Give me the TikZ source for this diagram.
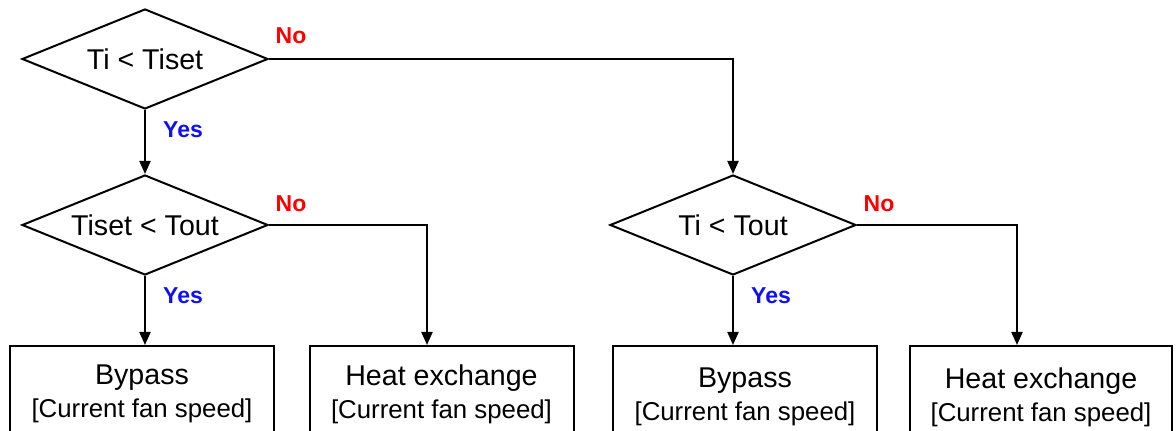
\documentclass[tikz,border=0pt]{standalone}
\usepackage{fontspec}
\setmainfont{Liberation Sans}
\usetikzlibrary{arrows.meta,positioning,shapes.geometric}
\definecolor{NoRed}{HTML}{FF0000}
\definecolor{YesBlue}{HTML}{1010F0}
\tikzset{
  decision/.style={diamond, draw=black, line width=1pt, minimum width=123pt, minimum height=50pt, shape aspect=2.46, inner sep=1pt, font=\fontsize{14.3pt}{17pt}\selectfont},
  action/.style={rectangle, draw=black, line width=1pt, anchor=north, minimum width=132pt, minimum height=48pt, align=center, font=\fontsize{14.3pt}{16.5pt}\selectfont},
  arr/.style={-{Triangle[length=6.5pt,width=5.5pt]}, line width=1pt, draw=black},
  nolabel/.style={text=NoRed, font=\bfseries\fontsize{11.5pt}{13pt}\selectfont},
  yeslabel/.style={text=YesBlue, font=\bfseries\fontsize{11.5pt}{13pt}\selectfont}
}

\begin{document}
\begin{tikzpicture}[x=0.5pt,y=-0.5pt]
\useasboundingbox (0,0) rectangle (1176,431);
% decisions
\node[decision] (d1) at (145,59) {Ti < Tiset};
\node[decision] (d2) at (145,225) {Tiset < Tout};
\node[decision] (d3) at (733,225) {Ti < Tout};
% actions (bottom edges run off the page)
\node[action] (b1) at (142,345) {Bypass\\{\fontsize{12.9pt}{16.5pt}\selectfont [Current fan speed]}};
\node[action] (b2) at (441.5,345) {Heat exchange\\{\fontsize{12.9pt}{16.5pt}\selectfont [Current fan speed]}};
\node[action,minimum height=51pt] (b3) at (745,345) {Bypass\\{\fontsize{12.9pt}{16.5pt}\selectfont [Current fan speed]}};
\node[action,minimum height=51pt,minimum width=131pt] (b4) at (1041,345) {Heat exchange\\{\fontsize{12.9pt}{16.5pt}\selectfont [Current fan speed]}};
% connectors
\draw[arr] (d1.east) -| (d3.north);
\draw[arr] (d1.south) -- (d2.north);
\draw[arr] (d2.south) -- (d2.south |- b1.north);
\draw[arr] (d2.east) -| ([xshift=-7.25pt]b2.north);
\draw[arr] (d3.south) -- (d3.south |- b3.north);
\draw[arr] (d3.east) -| ([xshift=-12pt]b4.north);
% branch labels
\node[nolabel] (n1) at ([shift={(22,-23)}]d1.east) {No};
\node[yeslabel] (y1) at ([shift={(38,20)}]d1.south) {Yes};
\node[nolabel] (n2) at ([shift={(22,-21)}]d2.east) {No};
\node[yeslabel] (y2) at ([shift={(38,20)}]d2.south) {Yes};
\node[nolabel] (n3) at ([shift={(22,-21)}]d3.east) {No};
\node[yeslabel] (y3) at ([shift={(38,20)}]d3.south) {Yes};
\end{tikzpicture}
\end{document}
